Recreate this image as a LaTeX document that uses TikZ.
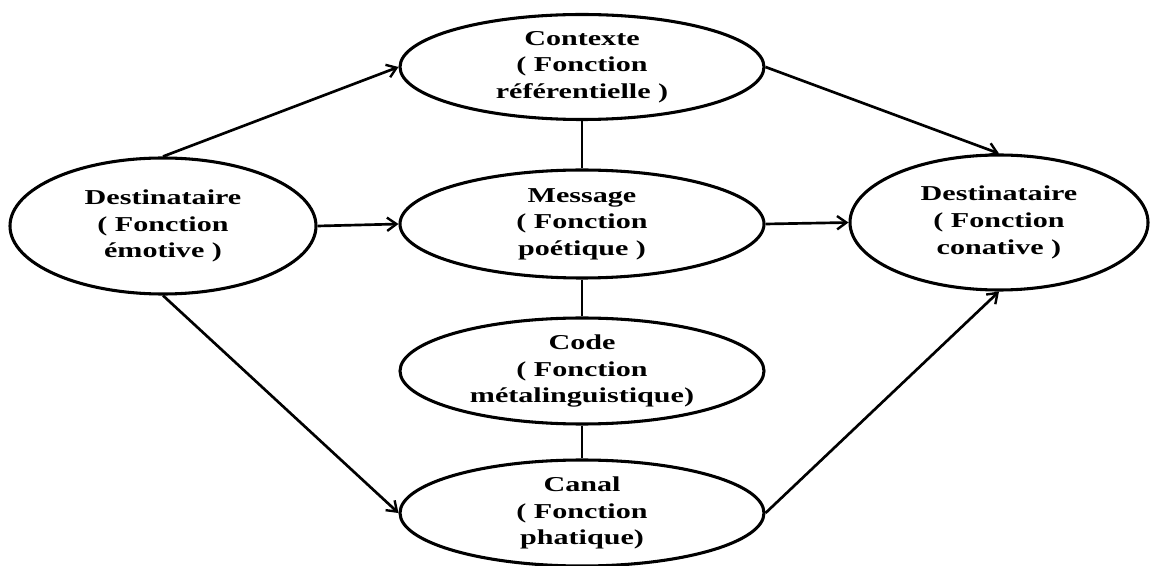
\documentclass[tikz,border=0pt]{standalone}
\usepackage{fontspec}
\setmainfont{Liberation Serif}[FakeStretch=1.42]
\usetikzlibrary{shapes.geometric,arrows.meta}
\begin{document}
\begin{tikzpicture}[x=0.75pt,y=-0.75pt,
  bub/.style={draw,ellipse,line width=2.3pt,inner sep=0pt,align=center,
    font=\fontsize{15.9pt}{20pt}\selectfont\bfseries},
  conn/.style={line width=2pt},
  arr/.style={conn,-{Straight Barb[length=7pt,width=10pt,line width=1.8pt]}}]
\useasboundingbox (0,0) rectangle (1153,566);
\fill[white] (0,0) rectangle (1153,566);
\node[bub,minimum width=229.5pt,minimum height=102pt] (L) at (163,226) {Destinataire\\( Fonction\\émotive )};
\node[bub,minimum width=273pt,minimum height=78.75pt] (ctx) at (582,67) {Contexte\\( Fonction\\référentielle )};
\node[bub,minimum width=273pt,minimum height=81pt] (msg) at (582,224) {Message\\( Fonction\\poétique )};
\node[bub,minimum width=273pt,minimum height=79.5pt] (code) at (582,371) {Code\\( Fonction\\métalinguistique)};
\node[bub,minimum width=273pt,minimum height=79.5pt] (canal) at (582,513) {Canal\\( Fonction\\phatique)};
\node[bub,minimum width=223.5pt,minimum height=101.25pt] (R) at (999,222.5) {Destinataire\\( Fonction\\conative )};
\draw[arr] (L.north) -- (ctx.west);
\draw[arr] (L.east) -- (msg.west);
\draw[arr] (L.south) -- (canal.west);
\draw[arr] (ctx.east) -- (R.north);
\draw[arr] (msg.east) -- (R.west);
\draw[arr] (canal.east) -- (R.south);
\draw[conn] (ctx.south) -- (msg.north);
\draw[conn] (msg.south) -- (code.north);
\draw[conn] (code.south) -- (canal.north);
\end{tikzpicture}
\end{document}
